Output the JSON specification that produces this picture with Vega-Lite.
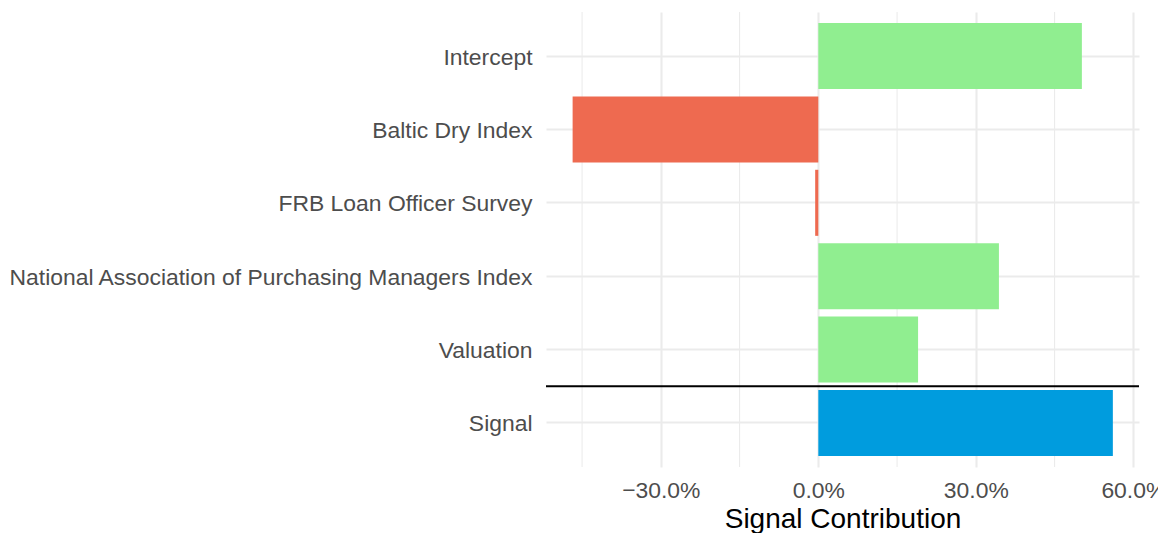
{
  "$schema": "https://vega.github.io/schema/vega-lite/v6.json",
  "width": 593,
  "height": 455,
  "autosize": {"type": "none"},
  "padding": {"left": 546, "top": 12, "right": 19, "bottom": 66},
  "background": "white",
  "config": {
    "font": "Liberation Sans",
    "view": {"stroke": null}
  },
  "datasets": {
    "bars": [
      {"factor": "Intercept", "value": 0.502, "kind": "pos"},
      {"factor": "Baltic Dry Index", "value": -0.468, "kind": "neg"},
      {"factor": "FRB Loan Officer Survey", "value": -0.006, "kind": "neg"},
      {"factor": "National Association of Purchasing Managers Index", "value": 0.344, "kind": "pos"},
      {"factor": "Valuation", "value": 0.190, "kind": "pos"},
      {"factor": "Signal", "value": 0.561, "kind": "signal"}
    ],
    "minor": [
      {"x": -0.45}, {"x": -0.15}, {"x": 0.15}, {"x": 0.45}
    ],
    "hline": [
      {"pos": 1.5}
    ]
  },
  "layer": [
    {
      "data": {"name": "minor"},
      "mark": {"type": "rule", "color": "#EBEBEB", "strokeWidth": 1.07},
      "encoding": {
        "x": {"field": "x", "type": "quantitative"}
      }
    },
    {
      "data": {"name": "bars"},
      "mark": {"type": "bar"},
      "encoding": {
        "y": {
          "field": "factor",
          "type": "nominal",
          "sort": ["Intercept", "Baltic Dry Index", "FRB Loan Officer Survey", "National Association of Purchasing Managers Index", "Valuation", "Signal"],
          "scale": {"paddingInner": 0.1, "paddingOuter": 0.15},
          "axis": {
            "title": null,
            "grid": true,
            "gridColor": "#EBEBEB",
            "gridWidth": 2.13,
            "bandPosition": 0.5,
            "domain": false,
            "ticks": false,
            "labelFontSize": 22.9,
            "labelColor": "#4D4D4D",
            "labelPadding": 14,
            "labelOffset": 1.5,
            "labelLimit": 1000
          }
        },
        "x": {
          "field": "value",
          "type": "quantitative",
          "scale": {"domain": [-0.5187, 0.6108], "nice": false, "zero": false},
          "axis": {
            "values": [-0.3, 0, 0.3, 0.6],
            "format": ".1%",
            "title": "Signal Contribution",
            "titleFontSize": 28,
            "titleFontWeight": "normal",
            "titleColor": "#000000",
            "titlePadding": 3,
            "grid": true,
            "gridColor": "#EBEBEB",
            "gridWidth": 2.13,
            "domain": false,
            "ticks": false,
            "labelFontSize": 22.9,
            "labelColor": "#4D4D4D",
            "labelPadding": 12.5,
            "labelFlush": false,
            "labelOverlap": false
          }
        },
        "x2": {"datum": 0},
        "color": {
          "field": "kind",
          "type": "nominal",
          "scale": {"domain": ["pos", "neg", "signal"], "range": ["#90EE90", "#EE6A50", "#009CDE"]},
          "legend": null
        }
      }
    },
    {
      "data": {"name": "hline"},
      "mark": {"type": "rule", "color": "#000000", "strokeWidth": 2.13},
      "encoding": {
        "y": {"field": "pos", "type": "quantitative", "scale": {"domain": [0.4, 6.6], "nice": false, "zero": false}, "axis": null}
      }
    }
  ],
  "resolve": {"scale": {"y": "independent"}}
}
